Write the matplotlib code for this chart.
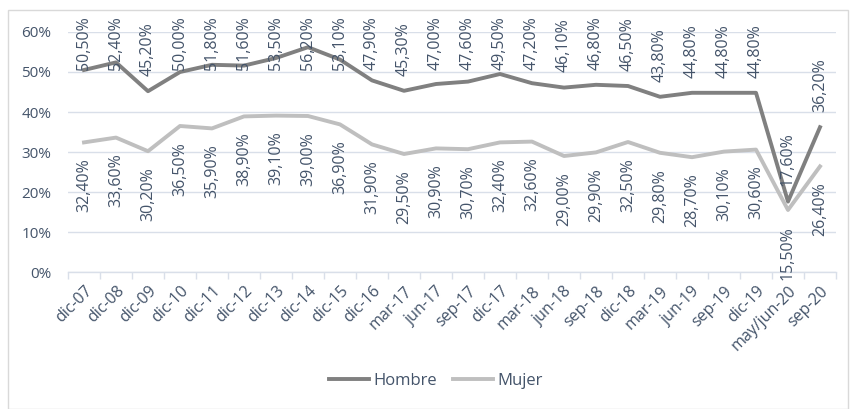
import matplotlib as mpl
mpl.use('agg')
import matplotlib.pyplot as plt
from matplotlib.patches import Rectangle
import numpy as np

plt.rcParams['font.family'] = ['Open Sans', 'DejaVu Sans']

# datos
periodos = ['dic-07', 'dic-08', 'dic-09', 'dic-10', 'dic-11', 'dic-12', 'dic-13', 'dic-14',
            'dic-15', 'dic-16', 'mar-17', 'jun-17', 'sep-17', 'dic-17', 'mar-18', 'jun-18',
            'sep-18', 'dic-18', 'mar-19', 'jun-19', 'sep-19', 'dic-19', 'may/jun-20', 'sep-20']
hombre = [50.5, 52.4, 45.2, 50.0, 51.8, 51.6, 53.5, 56.2, 53.1, 47.9, 45.3, 47.0,
          47.6, 49.5, 47.2, 46.1, 46.8, 46.5, 43.8, 44.8, 44.8, 44.8, 17.6, 36.2]
mujer = [32.4, 33.6, 30.2, 36.5, 35.9, 38.9, 39.1, 39.0, 36.9, 31.9, 29.5, 30.9,
         30.7, 32.4, 32.6, 29.0, 29.9, 32.5, 29.8, 28.7, 30.1, 30.6, 15.5, 26.4]
yticks = [0, 10, 20, 30, 40, 50, 60]

c_hombre = '#808080'
c_mujer = '#bfbfbf'
c_text = '#44546a'
c_grid = '#d9dfe9'

fig = plt.figure(figsize=(8.51, 4.09), dpi=100)
fig.patches.append(Rectangle((8/851, 0.0), 840/851, (409-10)/409, transform=fig.transFigure,
                             fill=False, ec='#d9d9d9', lw=1, zorder=0))
ax = fig.add_axes([68/851, 137/409, 768/851, 240/409])

x = np.arange(len(periodos))
ax.plot(x, hombre, color=c_hombre, lw=2.8, label='Hombre', zorder=3)
ax.plot(x, mujer, color=c_mujer, lw=2.8, label='Mujer', zorder=3)

def pct(v):
    return ('%.2f%%' % v).replace('.', ',')

for i in x:
    # etiquetas de Hombre arriba, limitadas al borde superior
    yh = min(hombre[i] + 3.8, 50.6)
    ax.text(i, yh, pct(hombre[i]), rotation=90, ha='center', va='bottom',
            fontsize=11.5, color=c_text, clip_on=False, zorder=4)
    ax.text(i, mujer[i] - 4.0, pct(mujer[i]), rotation=90, ha='center', va='top',
            fontsize=11.5, color=c_text, clip_on=False, zorder=4)

ax.set_xlim(-0.5, len(periodos) - 0.5)
ax.set_ylim(0, 60)
ax.set_yticks(yticks)
ax.set_yticklabels(['%d%%' % t for t in yticks])
ax.set_xticks(x)
ax.set_xticklabels(periodos, rotation=45, ha='right', rotation_mode='anchor')
ax.set_xticks(np.arange(-0.5, len(periodos)), minor=True)
ax.tick_params(axis='x', which='major', length=0, pad=8, labelsize=11.5, labelcolor=c_text)
ax.tick_params(axis='x', which='minor', length=5, color=c_grid, width=1)
ax.tick_params(axis='y', length=0, pad=12, labelsize=11, labelcolor=c_text)
ax.grid(axis='y', color=c_grid, lw=1)
ax.set_axisbelow(True)
for s in ['top', 'right', 'left']:
    ax.spines[s].set_visible(False)
ax.spines['bottom'].set_color(c_grid)
ax.spines['bottom'].set_linewidth(1)

fig.legend(loc='center', bbox_to_anchor=(436/851, 1 - 381/409), ncol=2, frameon=False,
           fontsize=12, labelcolor=c_text, handlelength=2.4, handletextpad=0.25,
           columnspacing=1.0)

plt.savefig('out.png', dpi=100)
plt.close(fig)
